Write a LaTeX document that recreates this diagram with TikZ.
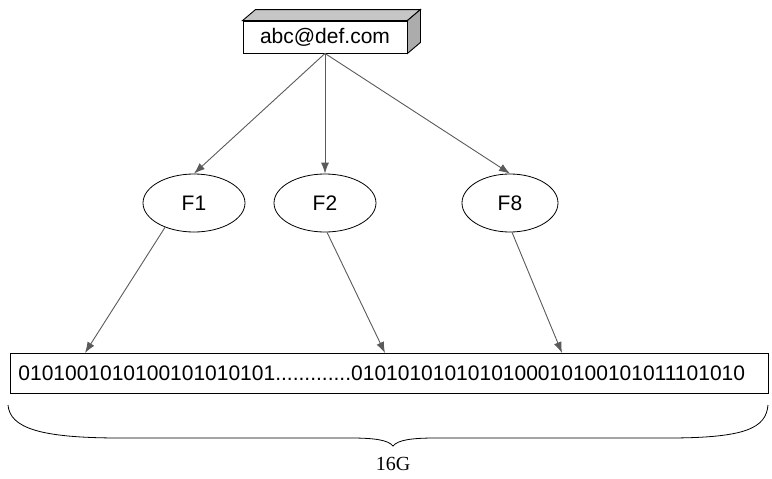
\documentclass[tikz,border=0pt]{standalone}
\usepackage{fontspec}
\setmainfont{Liberation Sans}
\newfontfamily\serifnum{Liberation Serif}
\usepackage{tikz}
\usetikzlibrary{arrows.meta,shapes,calc}
\definecolor{arrowgray}{HTML}{5A5A5A}

\begin{document}
\begin{tikzpicture}[x=1pt,y=-1pt]

	\tikzstyle{every node}=[font=\fontsize{21}{24}\selectfont]
	\tikzstyle{link}=[draw=arrowgray, line width=0.9pt, -{Latex[length=11pt,width=8pt]}]
	\tikzstyle{field}=[draw, ellipse, line width=0.8pt, inner sep=0pt, minimum height=58pt]

	\useasboundingbox (0,0) rectangle (772,479);

	% mail box with its 3d faces
	\node[draw, line width=0.9pt, minimum width=164pt, minimum height=32pt, inner sep=0pt] (mail) at (325,37) {abc@def.com};
	\draw[fill=gray!45, line width=0.9pt] (mail.north west) -- ++(13,-11) -- ($(mail.north east)+(13,-11)$) -- (mail.north east) -- cycle;
	\draw[fill=gray!65, line width=0.9pt] (mail.north east) -- ++(13,-11) -- ($(mail.south east)+(13,-11)$) -- (mail.south east) -- cycle;

	\node[field, minimum width=102pt] (f1) at (194,203) {F1};
	\node[field, minimum width=102pt] (f2) at (325,203) {F2};
	\node[field, minimum width=96pt] (f8) at (510,203) {F8};

	% the 16G bit string
	\node[draw, line width=0.8pt, anchor=north west, text width=742pt, inner xsep=8pt, inner ysep=0pt, minimum height=40pt, align=left] (bits) at (10,353) {0101001010100101010101.............0101010101010100010100101011101010};

	\coordinate (b1) at ($(bits.north west)+(75,0)$);
	\coordinate (b2) at ($(bits.north west)+(375,0)$);
	\coordinate (b8) at ($(bits.north west)+(552,0)$);

	\draw[link] (mail.south) -- (f1.north);
	\draw[link] (mail.south) -- (f2.north);
	\draw[link] (mail.south) -- (f8.north);

	\draw[link] (f1.-140) -- (b1);
	\draw[link] (f2.-86) -- (b2);
	\draw[link] (f8.-86) -- (b8);

	% brace under the string
	\draw[line width=0.8pt] (8,405) .. controls (10,428) and (40,438) .. (120,438) -- (350,438)
		.. controls (375,438) and (388,440) .. (393,446)
		.. controls (398,440) and (411,438) .. (436,438) -- (668,438)
		.. controls (746,438) and (766,428) .. (768,405);
	\node[font=\serifnum\fontsize{20}{24}\selectfont] (size) at (393,464) {16G};

\end{tikzpicture}
\end{document}
